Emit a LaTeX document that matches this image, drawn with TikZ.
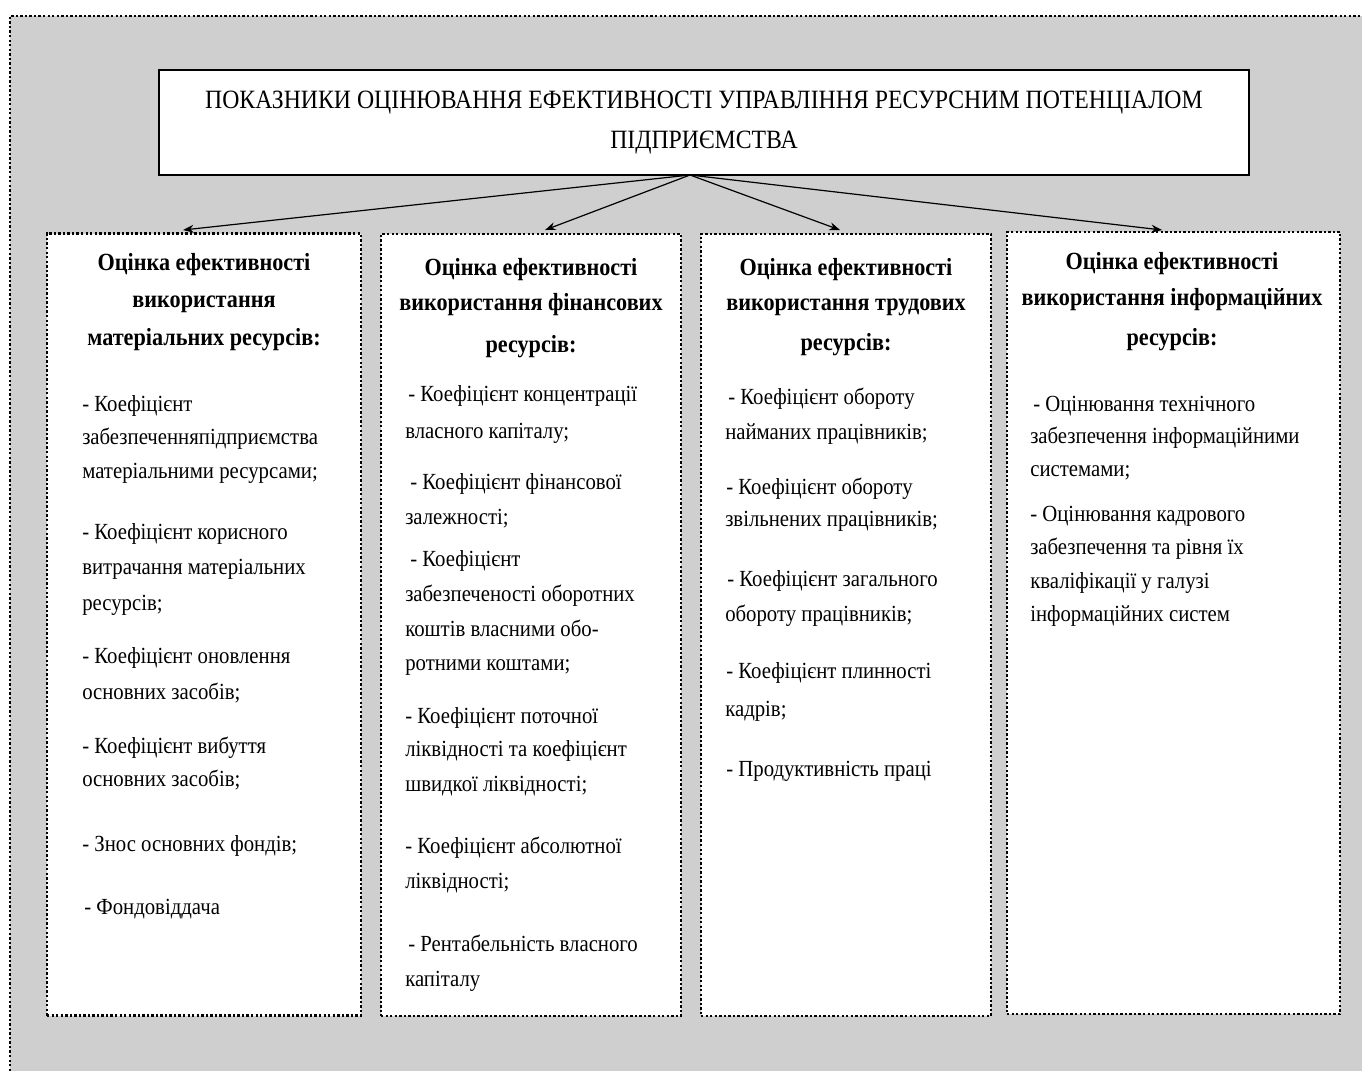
\documentclass[tikz,border=0pt]{standalone}
\usepackage{fontspec}
\setmainfont{Liberation Serif}[FakeStretch=0.9]
\usetikzlibrary{arrows.meta}

\tikzset{
  frame/.style={line width=1.8pt, dash pattern=on 1.8pt off 1.6pt},
  group/.style={frame, draw, fill=white, inner sep=0pt},
  title/.style={draw, fill=white, line width=2.2pt, inner sep=0pt, align=center,
    minimum width=817.5pt, minimum height=78.75pt, font=\fontsize{19.8}{30}\selectfont},
  head/.style={anchor=base, inner sep=0pt, font=\bfseries\fontsize{18.5}{21}\selectfont},
  item/.style={anchor=base west, inner sep=0pt, font=\fontsize{17.3}{19}\selectfont},
  link/.style={line width=0.9pt, -{Stealth[length=8pt,width=6pt]}}
}

\begin{document}
\begin{tikzpicture}[x=0.75pt, y=-0.75pt]
  \useasboundingbox (0,0) rectangle (1362,1071);
  % background
  \fill [black!19] (10,16) rectangle (1362,1071);
  \draw [frame] (10,1071) -- (10,16) -- (1362,16);

  % title
  \node [title] (top) at (704,122.5) {ПОКАЗНИКИ ОЦІНЮВАННЯ ЕФЕКТИВНОСТІ УПРАВЛІННЯ РЕСУРСНИМ ПОТЕНЦІАЛОМ\\ ПІДПРИЄМСТВА};

  % groups
  \foreach \name/\cx/\cy/\w in {mat/204/624.5/235.5, fin/531/625/225, lab/846/625/217.5, inf/1173.5/623/249.75}
    \node [group, minimum width=\w pt, minimum height=586.5pt] (\name) at (\cx,\cy) {};

  % arrows
  \coordinate (src) at (690,175);
  \foreach \i/\x in {1/183, 2/545, 3/840, 4/1162} {
    \coordinate (t\i) at (\x,230);
    \draw [link] (src) -- (t\i);
  }

  % headings
  \foreach \y/\t [count=\i] in {270/{Оцінка ефективності}, 307/{використання}, 345/{матеріальних ресурсів:}}
    \node [head] (hmat\i) at (204,\y) {\t};
  \foreach \y/\t [count=\i] in {275/{Оцінка ефективності}, 310/{використання фінансових}, 352/{ресурсів:}}
    \node [head] (hfin\i) at (531,\y) {\t};
  \foreach \y/\t [count=\i] in {275/{Оцінка ефективності}, 310/{використання трудових}, 350/{ресурсів:}}
    \node [head] (hlab\i) at (846,\y) {\t};
  \foreach \y/\t [count=\i] in {269/{Оцінка ефективності}, 305/{використання інформаційних}, 345/{ресурсів:}}
    \node [head] (hinf\i) at (1172,\y) {\t};

  % material resources
  \foreach \x/\y/\t [count=\i] in {82/411/{- Коефіцієнт}, 82/444/{забезпеченняпідприємства},
      82/478/{матеріальними ресурсами;}, 82/539/{- Коефіцієнт корисного},
      82/574/{витрачання матеріальних}, 82/610/{ресурсів;},
      82/663/{- Коефіцієнт оновлення}, 82/699/{основних засобів;},
      82/753/{- Коефіцієнт вибуття}, 82/786/{основних засобів;},
      82/851/{- Знос основних фондів;}, 84/914/{- Фондовіддача}}
    \node [item] (mat\i) at (\x,\y) {\t};

  % financial resources
  \foreach \x/\y/\t [count=\i] in {408/401/{- Коефіцієнт концентрації}, 405/438/{власного капіталу;},
      410/489/{- Коефіцієнт фінансової}, 405/524/{залежності;},
      410/566/{- Коефіцієнт}, 405/601/{забезпеченості оборотних},
      405/636/{коштів власними обо-}, 405/670/{ротними коштами;},
      405/723/{- Коефіцієнт поточної}, 405/756/{ліквідності та коефіцієнт},
      405/791/{швидкої ліквідності;}, 405/853/{- Коефіцієнт абсолютної},
      405/888/{ліквідності;}, 408/951/{- Рентабельність власного},
      405/986/{капіталу}}
    \node [item] (fin\i) at (\x,\y) {\t};

  % labour resources
  \foreach \x/\y/\t [count=\i] in {728/404/{- Коефіцієнт обороту}, 725/439/{найманих працівників;},
      726/494/{- Коефіцієнт обороту}, 725/526/{звільнених працівників;},
      727/586/{- Коефіцієнт загального}, 725/621/{обороту працівників;},
      726/678/{- Коефіцієнт плинності}, 725/716/{кадрів;},
      726/776/{- Продуктивність праці}}
    \node [item] (lab\i) at (\x,\y) {\t};

  % information resources
  \foreach \x/\y/\t [count=\i] in {1033/411/{- Оцінювання технічного}, 1030/443/{забезпечення інформаційними},
      1030/476/{системами;}, 1030/521/{- Оцінювання кадрового},
      1030/554/{забезпечення та рівня їх}, 1030/588/{кваліфікації у галузі},
      1030/621/{інформаційних систем}}
    \node [item] (inf\i) at (\x,\y) {\t};
\end{tikzpicture}
\end{document}
